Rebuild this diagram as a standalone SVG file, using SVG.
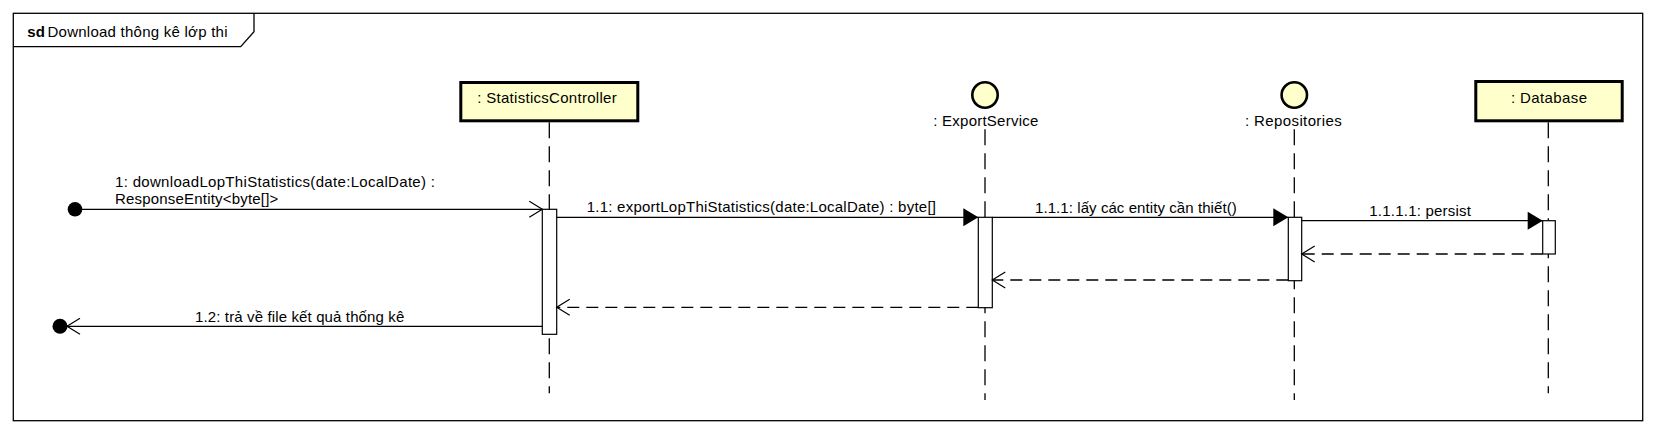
<svg xmlns="http://www.w3.org/2000/svg" width="1656" height="433" viewBox="0 0 1656 433">
<style>
text{font-family:"Liberation Sans",Arial,sans-serif;font-size:15px;fill:#000}
.frame{fill:none;stroke:#000;stroke-width:1.3}
.head{fill:#FFFFCC;stroke:#000;stroke-width:3}
.ctl{fill:#FFFFCC;stroke:#000;stroke-width:2.6}
.life{stroke:#000;stroke-width:1.3;stroke-dasharray:16 8;fill:none}
.act{fill:#fff;stroke:#000;stroke-width:1.2}
.msg{stroke:#000;stroke-width:1.2;fill:none}
.ret{stroke:#000;stroke-width:1.3;fill:none;stroke-dasharray:12 7}
</style>
<defs>
<marker id="fill" markerUnits="userSpaceOnUse" markerWidth="16" markerHeight="20" refX="15" refY="9" orient="auto" overflow="visible">
<path d="M0,0 L15,9 L0,18 Z" fill="#000" stroke="none"/>
</marker>
<marker id="open" markerUnits="userSpaceOnUse" markerWidth="15" markerHeight="18" refX="13" refY="8" orient="auto" overflow="visible">
<path d="M0,0 L13,8 L0,16" fill="none" stroke="#000" stroke-width="1.2" stroke-dasharray="none"/>
</marker>
</defs>
<rect width="1656" height="433" fill="#fff"/>
<g id="frame">
<rect class="frame" x="13.3" y="13.3" width="1629.4" height="407.4"/>
<polyline class="frame" points="13.3,46.7 240.7,46.7 254,31.7 254,13.3"/>
<text x="27.3" y="37.3" font-weight="bold" font-size="14">sd</text>
<text x="47.5" y="37.3" textLength="180" lengthAdjust="spacing">Download thông kê lớp thi</text>
</g>
<g id="StatisticsController">
<line class="life" x1="549.3" y1="122.3" x2="549.3" y2="393.3"/>
<rect class="head" x="460.8" y="82.5" width="177" height="38.3"/>
<text x="477.3" y="103.3" textLength="139.4" lengthAdjust="spacing">: StatisticsController</text>
<rect class="act" x="542.3" y="209.3" width="14.4" height="125"/>
</g>
<g id="ExportService">
<line class="life" x1="985" y1="129.3" x2="985" y2="400"/>
<circle class="ctl" cx="985" cy="95" r="12.7"/>
<text x="933.3" y="126" textLength="105" lengthAdjust="spacing">: ExportService</text>
<rect class="act" x="978.3" y="217.3" width="14" height="90.4"/>
</g>
<g id="Repositories">
<line class="life" x1="1294.3" y1="129.3" x2="1294.3" y2="400"/>
<circle class="ctl" cx="1294.3" cy="95" r="12.7"/>
<text x="1245" y="126" textLength="96.7" lengthAdjust="spacing">: Repositories</text>
<rect class="act" x="1288.3" y="217.3" width="13.4" height="63.4"/>
</g>
<g id="Database">
<line class="life" x1="1548.3" y1="122.3" x2="1548.3" y2="393.3"/>
<rect class="head" x="1475.8" y="81.5" width="146.4" height="39.3"/>
<text x="1511" y="103.3" textLength="76" lengthAdjust="spacing">: Database</text>
<rect class="act" x="1542.7" y="220.7" width="12.6" height="33.3"/>
</g>
<g id="connectors">
<circle cx="75" cy="209.3" r="7.3" fill="#000"/>
<line class="msg" x1="75" y1="209.3" x2="542.3" y2="209.3" marker-end="url(#open)"/>
<text x="115" y="186.7" textLength="320" lengthAdjust="spacing">1: downloadLopThiStatistics(date:LocalDate) :</text>
<text x="115" y="204.3" textLength="163.3" lengthAdjust="spacing">ResponseEntity&lt;byte[]&gt;</text>
<line class="msg" x1="556.7" y1="217.3" x2="978.3" y2="217.3" marker-end="url(#fill)"/>
<text x="586.7" y="211.7" textLength="349.3" lengthAdjust="spacing">1.1: exportLopThiStatistics(date:LocalDate) : byte[]</text>
<line class="msg" x1="992.3" y1="217.3" x2="1288.3" y2="217.3" marker-end="url(#fill)"/>
<text x="1035" y="212.7" textLength="201.7" lengthAdjust="spacing">1.1.1: lấy các entity cần thiết()</text>
<line class="msg" x1="1301.7" y1="220.7" x2="1542.7" y2="220.7" marker-end="url(#fill)"/>
<text x="1369.3" y="216" textLength="101.7" lengthAdjust="spacing">1.1.1.1: persist</text>
<line class="ret" x1="1542.7" y1="254" x2="1301.7" y2="254" marker-end="url(#open)"/>
<line class="ret" x1="1288.3" y1="280" x2="992.3" y2="280" marker-end="url(#open)"/>
<line class="ret" x1="978.3" y1="307.3" x2="556.7" y2="307.3" marker-end="url(#open)"/>
<line class="msg" x1="542.3" y1="326.3" x2="67" y2="326.3" marker-end="url(#open)"/>
<circle cx="60" cy="326.3" r="7.5" fill="#000"/>
<text x="195" y="321.7" textLength="209.3" lengthAdjust="spacing">1.2: trả về file kết quả thống kê</text>
</g>
</svg>
